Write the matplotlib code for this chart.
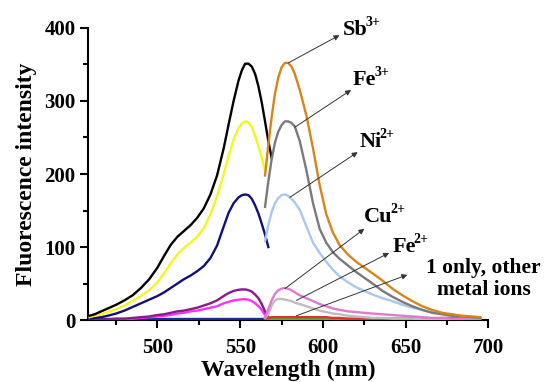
import matplotlib.pyplot as plt
import numpy as np

plt.rcParams['font.family'] = 'Liberation Serif'
plt.rcParams['font.weight'] = 'bold'

nan = np.nan

# left part of the spectra (up to the break near 567 nm)
wl_left = [459, 462, 466, 470, 475, 480, 485, 490, 495, 500, 504, 508, 512, 516, 520, 524,
           528, 532, 536, 540, 543, 546, 549, 551, 553, 555, 557, 559, 561, 563, 565, 567, 569]
black = [6, 8, 12, 16, 21, 27, 34, 44, 56, 72, 88, 103, 114, 122, 130, 140,
         153, 172, 198, 235, 268, 300, 328, 342, 351, 351, 347, 337, 320, 298, 272, 245, 222]
yellow = [4, 6, 8, 11, 15, 20, 26, 33, 41, 52, 64, 78, 90, 99, 106, 114,
          126, 145, 170, 200, 225, 247, 263, 269, 272, 271, 264, 252, 238, 222, 205, nan, nan]
navy = [2, 3, 4, 6, 9, 13, 18, 23, 28, 33, 38, 44, 50, 56, 61, 67,
        74, 85, 102, 128, 147, 160, 168, 171, 172, 171, 166, 157, 146, 132, 117, 100, nan]
purple = [0, 0, 1, 1, 2, 2, 3, 4, 5, 7, 8, 10, 12, 13, 15, 17,
          20, 23, 27, 33, 37, 40, 41.5, 42, 42, 41, 39, 35, 30, 22, 12, 4, nan]
magenta = [0, 0, 0, 0, 1, 1, 2, 3, 4, 5, 6, 7, 9, 10, 12, 13,
           15, 17, 19, 23, 25, 27, 28, 28.5, 28.5, 28, 26, 23, 19, 14, 7, 2, nan]
blue_left = [1] * 31 + [nan, nan]

# right part of the spectra
wl_right = [565, 567, 569, 571, 573, 575, 577, 579, 581, 583, 586, 590, 594, 598, 602, 606,
            610, 615, 620, 625, 630, 636, 642, 648, 654, 660, 666, 672, 678, 684, 690, 695]
orange = [198, 240, 278, 310, 332, 346, 352, 352, 347, 337, 315, 280, 235, 185, 145, 120,
          103, 90, 80, 72, 64, 54, 43, 34, 26, 19, 14, 10, 8, 6, 5, 4]
gray = [155, 190, 220, 243, 258, 267, 272, 272, 270, 265, 245, 205, 160, 125, 106, 93,
        84, 75, 66, 58, 50, 40, 32, 25, 19, 14, 10, 8, 6, 5, 4, 3]
lightblue = [108, 130, 148, 160, 167, 171, 172, 170, 166, 161, 151, 128, 106, 92, 80, 69,
             60, 52, 45, 40, 35, 30, 26, 21, 17, 14, 11, 9, 7, 5, 4, 3]
pink = [4, 15, 27, 36, 41, 43, 44, 43, 41, 38, 34, 30, 26, 22, 19, 16,
        14, 12, 11, 10, 9, 8, 7, 6, 5, 4, 3, 3, 2, 2, 2, 2]
silver = [3, 8, 20, 27, 29, 29, 28, 27, 26, 24, 22, 19, 16, 13, 11, 9,
          8, 6, 5, 4, 3, 3, 2, 2, 2, 1, 1, 1, 1, 1, 1, 1]
red = [2, 3, 4, 4, 4, 4, 4, 4, 4, 4, 4, 4, 4, 4, 4, 3,
       3, 2, 2, 2, 2, 2, 2, 2, 2, 2, 2, 3, 3, 3, 3, 3]
green = [1] * 32

fig = plt.figure(figsize=(5.5, 3.82), dpi=100)
ax = fig.add_axes([0.16, 0.162, 0.728, 0.765])

lw = 1.7
ax.plot(wl_left, blue_left, color='#1a2a9a', lw=lw)
ax.plot(wl_left, magenta, color='#ff30ff', lw=lw)
ax.plot(wl_left, purple, color='#8a1a8a', lw=lw)
ax.plot(wl_left, navy, color='#10107a', lw=lw)
ax.plot(wl_left, yellow, color='#f5f520', lw=lw)
ax.plot(wl_left, black, color='black', lw=lw)

ax.plot(wl_right, green, color='#22cc22', lw=lw)
ax.plot(wl_right, red, color='#e03030', lw=lw)
ax.plot(wl_right, silver, color='#bdbdbd', lw=lw)
ax.plot(wl_right, pink, color='#e07ad0', lw=lw)
ax.plot(wl_right, lightblue, color='#a8c8f0', lw=lw)
ax.plot(wl_right, gray, color='#7a7a7a', lw=lw)
ax.plot(wl_right, orange, color='#d8841a', lw=lw)

ax.set_xlim(458, 700)
ax.set_ylim(0, 400)
ax.set_xticks([500, 550, 600, 650, 700])
ax.set_xticks([475, 525, 575, 625, 675], minor=True)
ax.set_yticks([0, 100, 200, 300, 400])
ax.set_yticks([50, 150, 250, 350], minor=True)
ax.spines['top'].set_visible(False)
ax.spines['right'].set_visible(False)
for s in ['left', 'bottom']:
    ax.spines[s].set_linewidth(1.5)
    ax.spines[s].set_zorder(0)
ax.tick_params(which='major', direction='out', length=6, width=1.5, labelsize=15)
ax.tick_params(axis='x', which='major', pad=7)
ax.tick_params(axis='y', which='major', pad=3)
ax.tick_params(which='minor', direction='out', length=3.5, width=1.5)
ax.set_xlabel('Wavelength (nm)', fontsize=17, fontweight='bold', labelpad=1)
ax.set_ylabel('Fluorescence intensity', fontsize=17, fontweight='bold', labelpad=5)

arrow = dict(arrowstyle='-|>', color='#333333', lw=0.7, mutation_scale=8, shrinkA=0, shrinkB=0)
notes = [
    ('Sb', '3+', (579, 352), (610, 390), (612, 397)),
    ('Fe', '3+', (583, 264), (617, 315), (618, 329)),
    ('Ni', '2+', (580, 168), (621, 230), (622, 244)),
    ('Cu', '2+', (577, 43), (625, 125), (625, 141)),
    ('Fe', '2+', (584, 27), (640, 92), (642, 100)),
]
for label, sup, tip, tail, pos in notes:
    ax.annotate('', xy=tail, xytext=tip, arrowprops=arrow)
    t = ax.text(pos[0], pos[1], label, fontsize=16, fontweight='bold', ha='left', va='center')
    ax.annotate(sup, xy=(1, 0.56), xycoords=t, xytext=(-1.5, 0), textcoords='offset points',
                fontsize=10, fontweight='bold', ha='left', va='bottom')
ax.annotate('', xy=(651, 62), xytext=(584, 6), arrowprops=arrow)
ax.text(697, 56, '1 only, other\nmetal ions', fontsize=15.5, fontweight='bold',
        ha='center', va='center', linespacing=1.15, clip_on=False)

fig.savefig('out.png', dpi=100)
